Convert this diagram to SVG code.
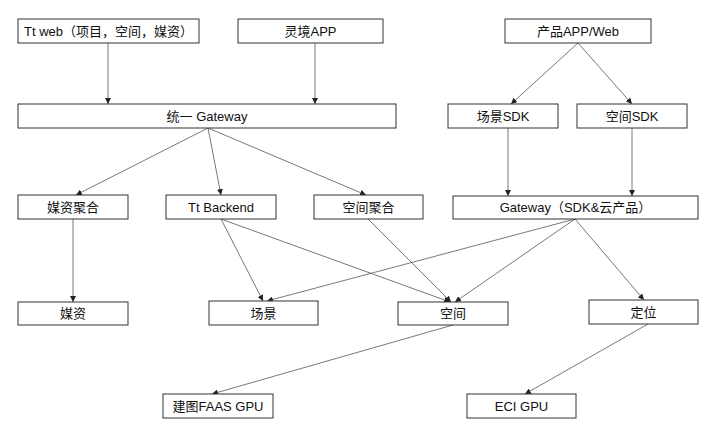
<svg xmlns="http://www.w3.org/2000/svg" width="720" height="440" viewBox="0 0 720 440">
<style>
.box{fill:#fff;stroke:#333;stroke-width:1}
.t{font-family:"Liberation Sans","Noto Sans CJK SC",sans-serif;font-size:13px;fill:#111;text-anchor:middle;dominant-baseline:central}
.c{stroke:#555;stroke-width:0.8;fill:none;marker-end:url(#ah)}
</style>
<defs>
<marker id="ah" viewBox="0 0 10 10" refX="10" refY="5" markerWidth="6" markerHeight="6" markerUnits="userSpaceOnUse" orient="auto">
<path d="M0,0 L10,5 L0,10 z" fill="#222"/>
</marker>
</defs>
<rect width="720" height="440" fill="#fff"/>
<g id="connectors">
<line class="c" x1="108" y1="43" x2="108" y2="104"/>
<line class="c" x1="315" y1="43" x2="315" y2="104"/>
<line class="c" x1="578" y1="43" x2="511" y2="104"/>
<line class="c" x1="578" y1="43" x2="632" y2="104"/>
<line class="c" x1="508" y1="128" x2="508" y2="196"/>
<line class="c" x1="632" y1="128" x2="632" y2="196"/>
<line class="c" x1="208" y1="128" x2="76" y2="195"/>
<line class="c" x1="208" y1="128" x2="221" y2="195"/>
<line class="c" x1="208" y1="128" x2="366" y2="195"/>
<line class="c" x1="73" y1="219" x2="73" y2="302"/>
<line class="c" x1="221" y1="219" x2="263" y2="301"/>
<line class="c" x1="221" y1="219" x2="450" y2="302"/>
<line class="c" x1="368" y1="219" x2="451" y2="302"/>
<line class="c" x1="575" y1="219" x2="267" y2="301"/>
<line class="c" x1="575" y1="219" x2="455" y2="302"/>
<line class="c" x1="575" y1="219" x2="644" y2="300"/>
<line class="c" x1="453" y1="325" x2="212" y2="394"/>
<line class="c" x1="648" y1="324" x2="525" y2="394"/>
</g>
<g id="n-ttweb"><rect class="box" x="18" y="19" width="181" height="24"/><text class="t" x="108.5" y="31">Tt web（项目，空间，媒资）</text></g>
<g id="n-lingjing"><rect class="box" x="238" y="19" width="145" height="24"/><text class="t" x="310.5" y="31">灵境APP</text></g>
<g id="n-product"><rect class="box" x="505" y="19" width="146" height="24"/><text class="t" x="578" y="31">产品APP/Web</text></g>
<g id="n-gateway"><rect class="box" x="18" y="104" width="378" height="24"/><text class="t" x="207" y="116">统一 Gateway</text></g>
<g id="n-scenesdk"><rect class="box" x="448" y="104" width="110" height="24"/><text class="t" x="503" y="116">场景SDK</text></g>
<g id="n-spacesdk"><rect class="box" x="577" y="104" width="110" height="24"/><text class="t" x="632" y="116">空间SDK</text></g>
<g id="n-mediaagg"><rect class="box" x="18" y="195" width="110" height="24"/><text class="t" x="73" y="207">媒资聚合</text></g>
<g id="n-ttbackend"><rect class="box" x="166" y="195" width="110" height="24"/><text class="t" x="221" y="207">Tt Backend</text></g>
<g id="n-spaceagg"><rect class="box" x="314" y="195" width="109" height="24"/><text class="t" x="368.5" y="207">空间聚合</text></g>
<g id="n-gatewaysdk"><rect class="box" x="453" y="196" width="245" height="23"/><text class="t" x="575.5" y="207.5">Gateway（SDK&amp;云产品）</text></g>
<g id="n-media"><rect class="box" x="18" y="302" width="110" height="23"/><text class="t" x="73" y="313.5">媒资</text></g>
<g id="n-scene"><rect class="box" x="209" y="301" width="109" height="24"/><text class="t" x="263.5" y="313">场景</text></g>
<g id="n-space"><rect class="box" x="398" y="302" width="110" height="23"/><text class="t" x="453" y="313.5">空间</text></g>
<g id="n-locate"><rect class="box" x="589" y="300" width="109" height="24"/><text class="t" x="643.5" y="312">定位</text></g>
<g id="n-faas"><rect class="box" x="163" y="394" width="110" height="24"/><text class="t" x="218" y="406">建图FAAS GPU</text></g>
<g id="n-eci"><rect class="box" x="467" y="394" width="109" height="24"/><text class="t" x="521.5" y="406">ECI GPU</text></g>
</svg>
